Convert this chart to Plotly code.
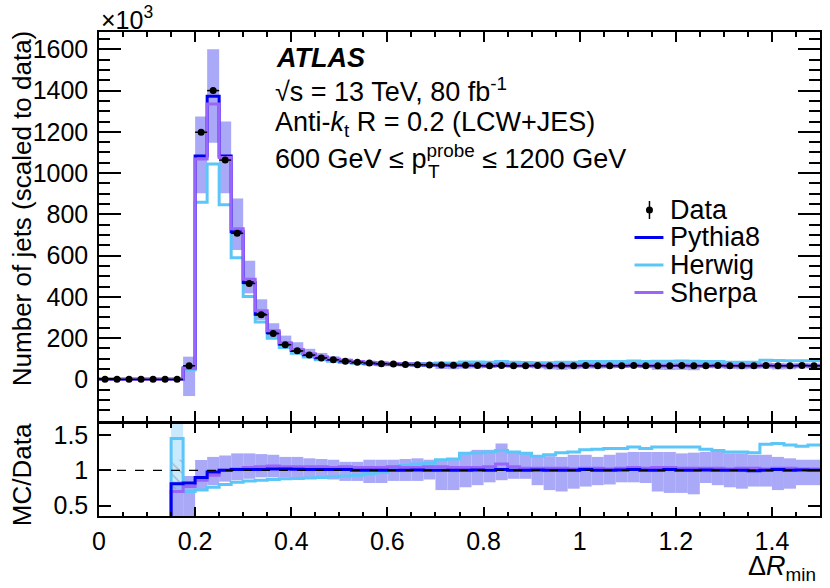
import numpy as np
import plotly.graph_objects as go

# ---------------- data (values in units of 10^3 jets) ----------------
bin_edges = np.linspace(0.0, 1.5, 61)
bin_centers = (bin_edges[:-1] + bin_edges[1:]) / 2.0

data_vals = [0, 0, 0, 0, 0, 0, 0, 66, 1198, 1400, 1063, 708, 465, 313, 222, 168, 138, 118, 104, 95,
             88, 83, 79, 76, 74, 72, 71, 70, 69, 68, 68, 67, 66, 67, 66, 66, 67, 66, 66, 66,
             67, 66, 66, 66, 67, 66, 66, 66, 67, 66, 66, 67, 66, 66, 66, 67, 66, 66, 67, 66]
pythia_vals = [0, 0, 0, 0, 0, 0, 0, 55, 1083, 1372, 1083, 716, 470, 316, 226, 171, 140, 119, 105, 96,
               89, 83, 79, 76, 74, 72, 71, 70, 69, 68, 68, 67, 66, 67, 66, 66, 67, 66, 66, 66,
               67, 66, 66, 66, 67, 66, 66, 67, 67, 66, 66, 67, 66, 66, 66, 67, 66, 66, 67, 66]
herwig_vals = [0, 0, 0, 0, 0, 0, 0, 47, 858, 1044, 846, 590, 402, 278, 199, 154, 126, 108, 95, 88,
               82, 78, 75, 74, 74, 77, 77, 77, 79, 79, 84, 84, 83, 86, 83, 82, 80, 81, 83, 83,
               86, 86, 86, 86, 89, 86, 88, 88, 89, 88, 86, 86, 83, 83, 83, 92, 91, 90, 90, 90]
sherpa_vals = [0, 0, 0, 0, 0, 0, 0, 52, 1068, 1335, 1076, 730, 485, 333, 236, 177, 145, 124, 109, 99,
               92, 86, 82, 79, 77, 75, 74, 73, 72, 71, 71, 70, 69, 73, 69, 68, 69, 68, 68, 68,
               69, 68, 68, 68, 69, 68, 68, 68, 69, 68, 68, 69, 68, 68, 68, 69, 68, 68, 69, 68]
# systematic band (bins 7..59)
band_lo = [-81, 902, 1147, 902, 627, 417, 288, 199, 152, 126, 108, 94, 84,
           76, 71, 66, 63, 63, 61, 60, 61, 50, 49, 52, 53, 55, 58, 58, 58, 53, 48, 46, 49,
           52, 52, 53, 55, 56, 54, 46, 45, 46, 44, 54, 53, 50, 49, 51, 52, 48, 49, 53, 52]
band_hi = [110, 1274, 1600, 1250, 877, 575, 388, 272, 212, 180, 148, 128, 112,
           100, 94, 91, 87, 85, 84, 83, 80, 79, 78, 85, 86, 85, 92, 83, 82, 80, 79, 79, 81,
           82, 79, 81, 83, 84, 83, 83, 83, 83, 83, 83, 84, 82, 82, 81, 82, 79, 77, 77, 76]

# ratio panel (bins 6..59)
ratio_pythia = [0.81, 0.82, 0.90, 0.975, 1.0, 1.01, 1.01, 1.01, 1.02, 1.02, 1.015, 1.01, 1.01, 1.01,
                1.01, 1.0, 1.0, 1.0, 1.0, 1.0, 1.005, 1.0, 1.0, 1.0, 1.0, 1.005, 1.0, 1.01, 1.0, 1.0,
                1.005, 1.0, 1.0, 1.0, 1.01, 1.0, 1.0, 1.005, 1.01, 1.0, 1.0, 1.01, 1.0, 1.0, 1.005,
                1.0, 1.0, 1.0, 0.995, 1.0, 1.01, 1.0, 1.005, 1.0]
ratio_herwig = [1.45, 0.70, 0.72, 0.76, 0.80, 0.83, 0.85, 0.86, 0.87, 0.88, 0.885, 0.89, 0.90, 0.91,
                0.92, 0.93, 0.95, 0.97, 1.0, 1.07, 1.09, 1.10, 1.15, 1.16, 1.24, 1.25, 1.26, 1.28, 1.26,
                1.24, 1.20, 1.22, 1.25, 1.26, 1.29, 1.30, 1.31, 1.31, 1.33, 1.31, 1.33, 1.33, 1.33,
                1.33, 1.30, 1.28, 1.26, 1.26, 1.25, 1.37, 1.38, 1.36, 1.34, 1.36]
ratio_sherpa = [0.70, 0.77, 0.86, 0.93, 1.0, 1.02, 1.04, 1.05, 1.06, 1.05, 1.05, 1.05, 1.05, 1.04,
                1.05, 1.04, 1.04, 1.04, 1.05, 1.04, 1.04, 1.05, 1.05, 1.04, 1.04, 1.04, 1.05, 1.09, 1.05,
                1.03, 1.03, 1.03, 1.03, 1.02, 1.03, 1.03, 1.02, 1.03, 1.04, 1.03, 1.04, 1.04, 1.03,
                1.03, 1.03, 1.03, 1.02, 1.03, 1.03, 1.02, 1.03, 1.03, 1.02, 1.02]
ratio_band_lo = [0.30, 0.30, 0.72, 0.79, 0.84, 0.86, 0.88, 0.90, 0.90, 0.90, 0.90, 0.89, 0.89, 0.87,
                 0.85, 0.85, 0.82, 0.82, 0.85, 0.85, 0.85, 0.87, 0.72, 0.72, 0.76, 0.79, 0.83, 0.86, 0.88,
                 0.88, 0.79, 0.72, 0.70, 0.74, 0.77, 0.79, 0.80, 0.83, 0.83, 0.82, 0.70, 0.68, 0.68,
                 0.66, 0.82, 0.79, 0.76, 0.74, 0.77, 0.77, 0.72, 0.74, 0.79, 0.79]
ratio_band_hi = [0.84, 0.92, 1.146, 1.19, 1.21, 1.24, 1.24, 1.23, 1.22, 1.19, 1.19, 1.17, 1.16, 1.15,
                 1.12, 1.12, 1.15, 1.15, 1.15, 1.16, 1.17, 1.15, 1.15, 1.15, 1.25, 1.29, 1.29, 1.38, 1.26,
                 1.24, 1.20, 1.20, 1.19, 1.22, 1.22, 1.19, 1.22, 1.25, 1.26, 1.26, 1.26, 1.26, 1.24,
                 1.25, 1.26, 1.26, 1.24, 1.24, 1.22, 1.22, 1.19, 1.17, 1.15, 1.15]
herwig_unc_first = (0.70, 1.70)   # light band in first ratio bin
hatch_first = (0.74, 1.15)

series_names = ["Data", "Pythia8", "Herwig", "Sherpa"]
x_ticks = [0, 0.2, 0.4, 0.6, 0.8, 1.0, 1.2, 1.4]
x_ticktext = ["0", "0.2", "0.4", "0.6", "0.8", "1", "1.2", "1.4"]
y_ticks = [0, 200, 400, 600, 800, 1000, 1200, 1400, 1600]
r_ticks = [0.5, 1.0, 1.5]
r_ticktext = ["0.5", "1", "1.5"]

# ---------------- style ----------------
C_PY = "#0000ee"
C_HW = "#5cc6f8"
C_SH = "#9a66fa"
C_BAND = "#a9a9f8"
FONT = "Liberation Sans, Arial, Helvetica, sans-serif"

W, H = 830, 588
ML, MR, MT, MB = 99, 8, 32, 72
PW, PH = W - ML - MR, H - MT - MB


def px(x):
    return (x - ML) / PW


def py(y):
    return (H - MB - y) / PH


def step_xy(edges, vals, start_from=None):
    xs = list(edges[:-1]) + [edges[-1]]
    ys = list(vals) + [vals[-1]]
    if start_from is not None:
        xs = [edges[0]] + xs
        ys = [start_from] + ys
    return xs, ys


fig = go.Figure()

# main band
c_main = bin_centers[7:]
fig.add_trace(go.Bar(x=c_main, base=band_lo, y=[h - l for h, l in zip(band_hi, band_lo)],
                     width=0.025, marker=dict(color=C_BAND, line=dict(width=0)),
                     xaxis="x", yaxis="y", showlegend=False, hoverinfo="skip"))

for vals, col in [(herwig_vals, C_HW), (pythia_vals, C_PY), (sherpa_vals, C_SH)]:
    xs, ys = step_xy(bin_edges, vals)
    fig.add_trace(go.Scatter(x=xs, y=ys, mode="lines", line=dict(color=col, width=3, shape="hv"),
                             xaxis="x", yaxis="y", showlegend=False))

fig.add_trace(go.Scatter(x=bin_centers, y=data_vals, mode="markers",
                         marker=dict(color="black", size=7),
                         error_x=dict(type="constant", value=0.0125, width=0, thickness=1.5, color="black"),
                         xaxis="x", yaxis="y", showlegend=False))

# ratio panel
edges_r = bin_edges[6:]
c_r = bin_centers[6:]
fig.add_trace(go.Bar(x=c_r, base=ratio_band_lo, y=[h - l for h, l in zip(ratio_band_hi, ratio_band_lo)],
                     width=0.025, marker=dict(color=C_BAND, line=dict(width=0)),
                     xaxis="x2", yaxis="y2", showlegend=False, hoverinfo="skip"))
fig.add_trace(go.Bar(x=[c_r[0]], base=[herwig_unc_first[0]], y=[herwig_unc_first[1] - herwig_unc_first[0]],
                     width=0.025, marker=dict(color="rgba(120,200,250,0.40)", line=dict(width=0)),
                     xaxis="x2", yaxis="y2", showlegend=False, hoverinfo="skip"))
fig.add_trace(go.Bar(x=[c_r[0]], base=[hatch_first[0]], y=[hatch_first[1] - hatch_first[0]],
                     width=0.025,
                     marker=dict(color="rgba(0,0,0,0)", line=dict(width=0),
                                 pattern=dict(shape="\\", fgcolor="#777777", bgcolor="rgba(0,0,0,0)",
                                              size=8, solidity=0.15, fillmode="overlay")),
                     xaxis="x2", yaxis="y2", showlegend=False, hoverinfo="skip"))
for vals, col in [(ratio_herwig, C_HW), (ratio_sherpa, C_SH), (ratio_pythia, C_PY)]:
    xs, ys = step_xy(edges_r, vals, start_from=0.0)
    fig.add_trace(go.Scatter(x=xs, y=ys, mode="lines", line=dict(color=col, width=3, shape="hv"),
                             xaxis="x2", yaxis="y2", showlegend=False))

axis_common = dict(showline=True, linewidth=1.5, linecolor="black", mirror="allticks",
                   ticks="inside", tickwidth=1.5, tickcolor="black", showgrid=False, zeroline=False,
                   tickfont=dict(family=FONT, size=25, color="black"))

fig.update_layout(
    width=W, height=H, margin=dict(l=ML, r=MR, t=MT, b=MB),
    paper_bgcolor="white", plot_bgcolor="white", barmode="overlay", showlegend=False,
    xaxis=dict(domain=[0, 1], anchor="y", range=[0, 1.5], tickmode="array", tickvals=x_ticks,
               showticklabels=False, ticklen=10,
               minor=dict(ticks="inside", ticklen=5, tickmode="linear", tick0=0, dtick=0.05,
                          tickwidth=1.5, tickcolor="black"), **axis_common),
    yaxis=dict(domain=[(H - MB - 421) / PH, 1], anchor="x", range=[-202, 1684], tickmode="array",
               tickvals=y_ticks, ticktext=[str(v) for v in y_ticks], ticklen=22, ticklabelstandoff=4,
               minor=dict(ticks="inside", ticklen=11, tickmode="linear", tick0=0, dtick=50,
                          tickwidth=1.5, tickcolor="black"), **axis_common),
    xaxis2=dict(domain=[0, 1], anchor="y2", range=[0, 1.5], tickmode="array", tickvals=x_ticks,
                ticktext=x_ticktext, ticklen=9, ticklabelstandoff=2,
                minor=dict(ticks="inside", ticklen=4.5, tickmode="linear", tick0=0, dtick=0.05,
                           tickwidth=1.5, tickcolor="black"), **axis_common),
    yaxis2=dict(domain=[0, (H - MB - 424) / PH], anchor="x2", range=[0.353, 1.656], tickmode="array",
                tickvals=r_ticks, ticktext=r_ticktext, ticklen=12, ticklabelstandoff=4, **axis_common),
)

fig.add_shape(type="line", xref="x2", yref="y2", x0=0, x1=1.5, y0=1, y1=1,
              line=dict(color="black", width=1.2, dash="dash"), layer="above")

# texts
def ann(text, x, y, size=27, xanchor="left", yanchor="middle", angle=0):
    fig.add_annotation(text=text, x=px(x), y=py(y), xref="paper", yref="paper", showarrow=False,
                       xanchor=xanchor, yanchor=yanchor, textangle=angle,
                       font=dict(family=FONT, size=size, color="black"))

ann("×10<sup>3</sup>", 99, 18, size=25)
ann("<b><i>ATLAS</i></b>", 274, 58)
ann("√s = 13 TeV, 80 fb<sup>-1</sup>", 273, 90)
ann("Anti-<i>k</i><sub>t</sub> R = 0.2 (LCW+JES)", 273, 124)
ann("600 GeV ≤ p<sup>probe</sup> ≤ 1200 GeV", 273, 157)
ann("T", 427, 171, size=19)
ann("Number of jets (scaled to data)", 22, 208, size=26, xanchor="center", angle=-90)
ann("MC/Data", 22, 475, size=26, xanchor="center", angle=-90)
ann("Δ<i>R</i><sub>min</sub>", 820, 568, xanchor="right")

# manual legend
leg_y = [210, 237.5, 265, 292.5]
leg_cols = ["black", C_PY, C_HW, C_SH]
for name, yc, col in zip(series_names, leg_y, leg_cols):
    ann(name, 670, yc)
    if name == "Data":
        fig.add_shape(type="line", xref="paper", yref="paper", x0=px(651), x1=px(651),
                      y0=py(yc - 9), y1=py(yc + 9), line=dict(color="black", width=1.5))
        fig.add_shape(type="circle", xref="paper", yref="paper", xsizemode="pixel", ysizemode="pixel",
                      xanchor=px(651), yanchor=py(yc), x0=-3.5, x1=3.5, y0=-3.5, y1=3.5,
                      fillcolor="black", line=dict(color="black", width=0))
    else:
        fig.add_shape(type="line", xref="paper", yref="paper", x0=px(636), x1=px(665),
                      y0=py(yc), y1=py(yc), line=dict(color=col, width=3))

fig.write_html("out.html", config={"displayModeBar": False},
               post_script="document.body.style.margin='0px';")
